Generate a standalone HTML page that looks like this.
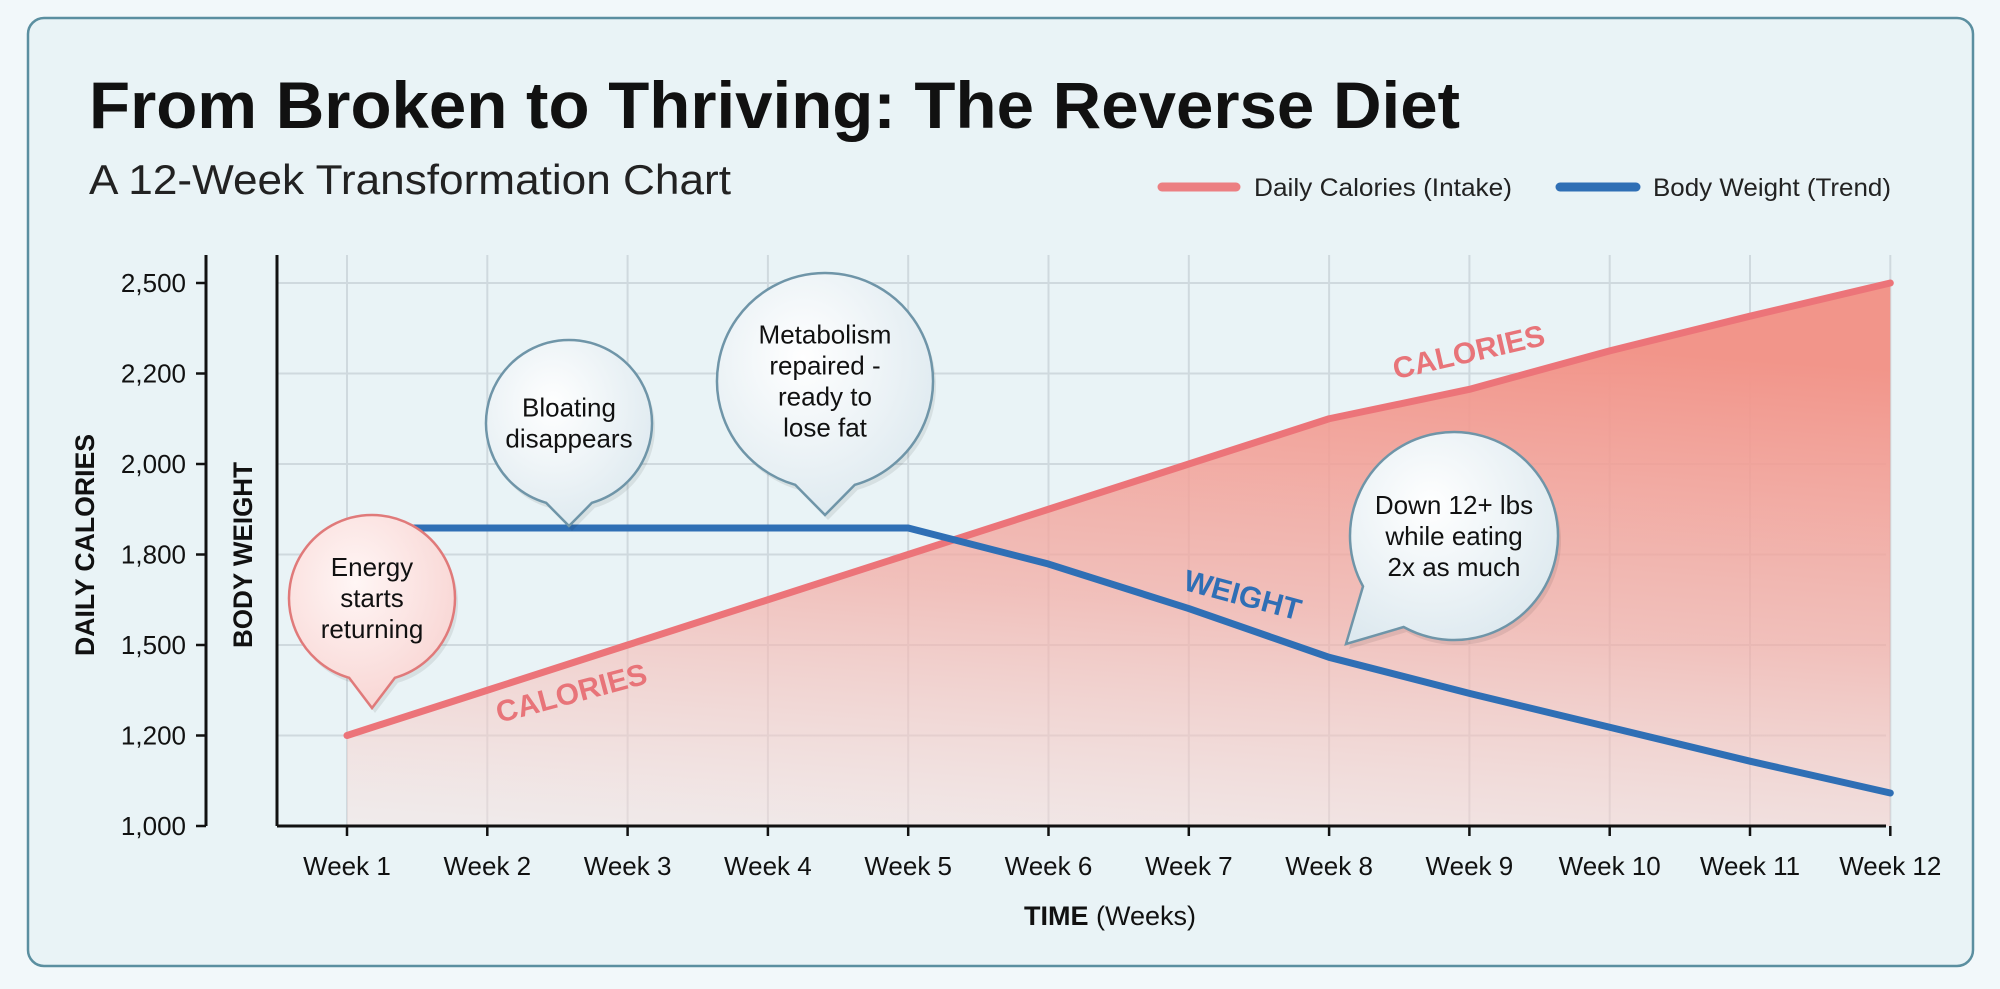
<!DOCTYPE html>
<html><head><meta charset="utf-8"><style>
html,body{margin:0;padding:0;background:#f2f8fa;}
svg{display:block;font-family:"Liberation Sans",sans-serif;}
</style></head><body>
<svg id="chart" width="2000" height="989" viewBox="0 0 2000 989" xmlns="http://www.w3.org/2000/svg">
<defs>
<linearGradient id="areaGrad" x1="0.2" y1="0" x2="0" y2="1">
<stop offset="0" stop-color="#f2958a" stop-opacity="1"/>
<stop offset="0.5" stop-color="#f4aaa2" stop-opacity="0.7"/>
<stop offset="1" stop-color="#fbe0dc" stop-opacity="0.4"/>
</linearGradient>
<radialGradient id="bubBlue" cx="0.4" cy="0.35" r="0.7">
<stop offset="0" stop-color="#ffffff"/><stop offset="1" stop-color="#dde9ef"/>
</radialGradient>
<radialGradient id="bubPink" cx="0.4" cy="0.35" r="0.7">
<stop offset="0" stop-color="#fff6f5"/><stop offset="1" stop-color="#f8d4d2"/>
</radialGradient>
</defs>
<rect x="28" y="18" width="1945" height="948" rx="16" fill="#e9f3f6" stroke="#5b8fa0" stroke-width="2.5"/>
<text x="89" y="128" font-size="66" font-weight="bold" fill="#111" textLength="1371" lengthAdjust="spacingAndGlyphs">From Broken to Thriving: The Reverse Diet</text>
<text x="89" y="194" font-size="42" fill="#222" textLength="642" lengthAdjust="spacingAndGlyphs">A 12-Week Transformation Chart</text>
<g>
<line x1="1162" y1="187" x2="1236" y2="187" stroke="#ec7f82" stroke-width="9" stroke-linecap="round"/>
<text x="1254" y="196" font-size="25" fill="#222" textLength="258" lengthAdjust="spacingAndGlyphs">Daily Calories (Intake)</text>
<line x1="1560" y1="187" x2="1636" y2="187" stroke="#2f6fb5" stroke-width="9" stroke-linecap="round"/>
<text x="1653" y="196" font-size="25" fill="#222" textLength="238" lengthAdjust="spacingAndGlyphs">Body Weight (Trend)</text>
</g>
<g id="grid"></g>
<g id="plot"></g>
<g id="axes"></g>
<text transform="translate(94,545) rotate(-90)" text-anchor="middle" font-size="27" font-weight="bold" fill="#111" textLength="222" lengthAdjust="spacingAndGlyphs">DAILY CALORIES</text>
<text transform="translate(252,555) rotate(-90)" text-anchor="middle" font-size="27" font-weight="bold" fill="#111" textLength="186" lengthAdjust="spacingAndGlyphs">BODY WEIGHT</text>
<text x="1110" y="925" text-anchor="middle" font-size="27" fill="#111"><tspan font-weight="bold">TIME</tspan> (Weeks)</text>
<g id="notes"></g>
</svg>
<script>
const weeks = ["Week 1","Week 2","Week 3","Week 4","Week 5","Week 6","Week 7","Week 8","Week 9","Week 10","Week 11","Week 12"];
const calories = [1200,1350,1500,1650,1800,1900,2000,2100,2165,2275,2390,2500];
const weight = [185,185,185,185,185,183.3,181.2,178.9,177.2,175.6,174,172.5];
const calTicks = [1000,1200,1500,1800,2000,2200,2500];
const calTickLabels = ["1,000","1,200","1,500","1,800","2,000","2,200","2,500"];

const NS = "http://www.w3.org/2000/svg";
const X0 = 347, XSTEP = 140.3, YBOT = 826, YTOP = 283, TOP = 255;
const PLOTL = 277, PLOTR = 1886, CALAX = 206;
function xScale(i){ return X0 + i*XSTEP; }
function yCal(v){
  const n = calTicks.length, step = (YBOT-YTOP)/(n-1);
  for (let k=0;k<n-1;k++){
    if (v <= calTicks[k+1] || k===n-2){
      const t=(v-calTicks[k])/(calTicks[k+1]-calTicks[k]);
      return YBOT - (k+t)*step;
    }
  }
}
function yW(w){ return 528 + (185-w)*(793-528)/(185-172.5); }
function mk(tag, attrs, parent){
  const e=document.createElementNS(NS,tag);
  for(const k in attrs) e.setAttribute(k, attrs[k]);
  parent.appendChild(e); return e;
}
const grid=document.getElementById('grid');
const plot=document.getElementById('plot');
const axes=document.getElementById('axes');
const notes=document.getElementById('notes');

calTicks.forEach((t,i)=>{
  const y=yCal(t);
  const g=mk('line',{x1:PLOTL,y1:y,x2:PLOTR,y2:y,stroke:"#cfd9de","stroke-width":2},grid);
  
  
  const tk=mk('line',{x1:CALAX-10,y1:y,x2:CALAX,y2:y,stroke:"#111","stroke-width":2.5},axes);
  
  
  const lb=mk('text',{x:186,y:y+9,"text-anchor":"end","font-size":26,fill:"#111"},axes);
  lb.textContent=calTickLabels[i];
  
  
});
weeks.forEach((w,i)=>{
  const x=xScale(i);
  const g=mk('line',{x1:x,y1:TOP,x2:x,y2:YBOT,stroke:"#cfd9de","stroke-width":2},grid);
  
  
  const tk=mk('line',{x1:x,y1:YBOT,x2:x,y2:YBOT+10,stroke:"#111","stroke-width":2.5},axes);
  
  
  const lb=mk('text',{x:x,y:875,"text-anchor":"middle","font-size":26,fill:"#111"},axes);
  lb.textContent=w;
  
  
});

let pts=calories.map((c,i)=>xScale(i)+","+yCal(c));
const area=mk('polygon',{points:xScale(0)+","+YBOT+" "+pts.join(" ")+" "+xScale(11)+","+YBOT,fill:"url(#areaGrad)"},plot);


const cl=mk('polyline',{points:pts.join(" "),fill:"none",stroke:"#ec7479","stroke-width":7,"stroke-linecap":"round","stroke-linejoin":"round"},plot);


const wl=mk('polyline',{points:weight.map((w,i)=>xScale(i)+","+yW(w)).join(" "),fill:"none",stroke:"#2f6fb5","stroke-width":7,"stroke-linecap":"round","stroke-linejoin":"round"},plot);



[[CALAX,TOP,CALAX,YBOT],[PLOTL,TOP,PLOTL,YBOT],[PLOTL,YBOT,PLOTR,YBOT]].forEach(a=>{
  const l=mk('line',{x1:a[0],y1:a[1],x2:a[2],y2:a[3],stroke:"#111","stroke-width":3},axes);
  
  
});

function label(txt,x,y,rot,color,name){
  const t=mk('text',{x:0,y:0,transform:`translate(${x},${y}) rotate(${rot})`,"text-anchor":"middle","font-size":30,"font-weight":"bold",fill:color},plot);
  t.textContent=txt;
  
  
}
label("CALORIES",574,703,-15,"#e87479","calories-label-lower");
label("CALORIES",1471,362,-13,"#e87479","calories-label-upper");
label("WEIGHT",1240,605,15,"#2f6fb5","weight-label");

function bubble(cx,cy,r,tx,ty,lines,pink,name){
  const g=mk('g',{},notes);
  
  
  const ang=Math.atan2(ty-cy,tx-cx), sp=0.28;
  const p1=[cx+r*Math.cos(ang-sp),cy+r*Math.sin(ang-sp)], p2=[cx+r*Math.cos(ang+sp),cy+r*Math.sin(ang+sp)];
  const d=`M${p1[0]},${p1[1]} A${r},${r} 0 1 0 ${p2[0]},${p2[1]} L${tx},${ty} Z`;
  mk('path',{d:d,fill:"rgba(0,0,0,0.08)",transform:"translate(3,5)"},g);
  mk('path',{d:d,fill:pink?"url(#bubPink)":"url(#bubBlue)",stroke:pink?"#e07a7a":"#6f95a8","stroke-width":2.5},g);
  const lh=31, y0=cy-(lines.length-1)*lh/2+9;
  lines.forEach((s,i)=>{
    const t=mk('text',{x:cx,y:y0+i*lh,"text-anchor":"middle","font-size":26,fill:"#111"},g);
    t.textContent=s;
  });
}
bubble(372,598,83,372,708,["Energy","starts","returning"],true,"note-energy");
bubble(569,423,83,569,526,["Bloating","disappears"],false,"note-bloating");
bubble(825,381,108,825,515,["Metabolism","repaired -","ready to","lose fat"],false,"note-metabolism");
bubble(1454,536,104,1346,644,["Down 12+ lbs","while eating","2x as much"],false,"note-down-12-lbs");
</script>
</body></html>
